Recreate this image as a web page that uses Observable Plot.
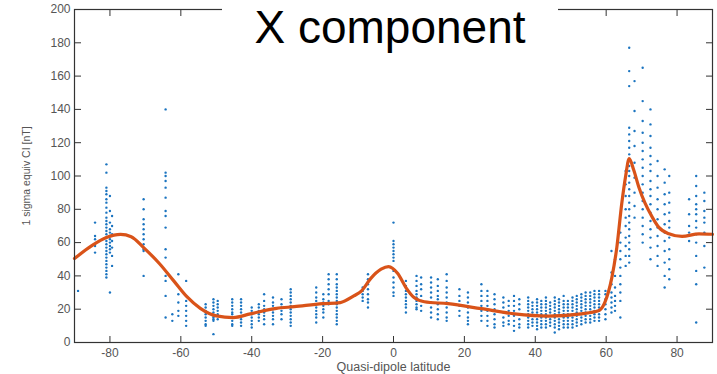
<!DOCTYPE html>
<html><head><meta charset="utf-8">
<script src="https://cdn.jsdelivr.net/npm/d3@7"></script>
<script src="https://cdn.jsdelivr.net/npm/@observablehq/plot@0.6"></script>
<style>
body{margin:0;background:#fff;}
#wrap{position:relative;width:717px;height:374px;overflow:hidden;}
#title{position:absolute;left:222px;top:1px;width:336px;height:52px;background:#fff;font:46px "Liberation Sans",Arial,sans-serif;color:#000;text-align:center;line-height:52px;white-space:nowrap;}
</style></head><body><div id="wrap"><div id="chart"></div><div id="title">X component</div></div>
<script>
const titleText = "X component";
const xLabel = "Quasi-dipole latitude";
const yLabel = "1 sigma equiv CI [nT]";
const xTicks = [-80, -60, -40, -20, 0, 20, 40, 60, 80];
const yTicks = [0, 20, 40, 60, 80, 100, 120, 140, 160, 180, 200];

// scatter: station latitudes and the values observed at each
const stationLat = [-89, -84.2, -81, -80, -79.4, -70.5, -64.3, -62.4, -60.7, -58.5, -53, -50.8, -49.6, -45.5, -43, -40, -38, -36.5, -34, -31.6, -29,
  -21.8, -19.8, -18.3, -16, -8.7, -7.2, 0, 3.5, 6.5, 7.8, 10.6, 12.5, 15, 18.6, 21, 24.8, 26.5, 28.5, 31, 32.5, 34, 35.5,
  38, 39.2, 40.5, 41.7, 43, 44.2, 45.5, 46.7, 48, 49.2, 50.5, 51.7, 53, 54.2, 55.5, 56.7, 58, 59.8, 61.5, 62.5, 64, 65.5, 66.5, 68, 70.3, 72.5, 74.5, 76.5, 77.8, 83.4, 85.4, 87.7];
const stationValues = [
  [31],
  [72, 64, 62, 58, 54],
  [107, 102, 93, 91, 89, 86, 84, 81, 78, 75, 73, 71, 69, 67, 65, 63, 61, 59, 57, 55, 53, 51, 49, 47, 45, 43, 41, 39],
  [88, 79, 72, 68, 66, 64, 62, 60, 58, 56, 54, 30],
  [76, 70, 65, 61, 57, 52, 46],
  [86, 80, 74, 71, 68, 65, 62, 59, 56, 55, 40],
  [140, 102, 100, 97, 93, 87, 79, 76, 69, 56, 51, 40, 37, 28, 15],
  [17, 13],
  [41, 29, 24, 19, 16],
  [37, 28, 25, 22, 19, 16, 13, 10],
  [23, 21, 19, 17, 15, 13, 11, 10],
  [26, 24, 22, 20, 18, 16, 15, 14, 13, 5],
  [25, 23, 21, 19, 17, 16, 14],
  [26, 24, 22, 20, 18, 17, 15, 13, 11, 10],
  [26, 24, 22, 20, 18, 16, 14, 12, 10],
  [21, 19, 17, 15, 13, 11, 9],
  [23, 21, 19, 17, 15, 13],
  [29, 25, 22, 20, 18, 16, 14, 11],
  [27, 24, 22, 20, 18, 16, 14, 11],
  [26, 23, 21, 19, 17, 14],
  [32, 30, 28, 26, 24, 22, 20, 18, 16, 14, 12, 10],
  [33, 30, 27, 25, 23, 21, 19, 17, 15, 12],
  [29, 26, 24, 22, 20, 18, 15],
  [41, 38, 35, 32, 29, 25, 23],
  [41, 38, 35, 33, 31, 29, 27, 25, 23, 21, 19, 17, 15, 13, 11],
  [33, 31, 29, 27, 25],
  [41, 38, 35, 32, 29, 26, 24, 21],
  [72, 61, 59, 57, 55, 53, 51, 49, 43, 39, 36, 33, 30, 28],
  [37, 34, 31, 29, 27, 25, 23, 21, 18],
  [40, 37, 34, 31, 29, 27, 25, 23, 21, 20],
  [39, 35, 32, 28, 25, 22, 19],
  [39, 36, 33, 30, 27, 24, 21, 18, 15],
  [38, 34, 31, 28, 26, 23, 20, 17, 14],
  [41, 37, 33, 30, 27, 24, 21, 18, 15, 13],
  [32, 28, 25, 22, 19, 16],
  [30, 27, 24, 21, 18, 15, 13, 11],
  [35, 31, 28, 25, 22, 19, 16, 13],
  [31, 28, 25, 22, 19, 16, 13, 10],
  [29, 26, 23, 20, 17, 14, 11, 9],
  [27, 24, 21, 18, 15, 12, 10],
  [25, 22, 19, 16, 13, 11],
  [28, 25, 22, 19, 16, 13, 10, 7],
  [26, 23, 20, 17, 14, 11, 9],
  [27, 25, 23, 21, 19, 17, 15, 13, 11, 9],
  [24, 22, 20, 18, 16, 14, 12, 10],
  [26, 24, 22, 20, 18, 16, 14, 12, 10, 8],
  [25, 23, 21, 19, 17, 15, 13, 11, 9],
  [27, 25, 23, 21, 19, 17, 15, 13, 11, 9],
  [24, 22, 20, 18, 16, 14, 12, 10],
  [27, 25, 23, 21, 19, 17, 15, 13, 11, 9, 6],
  [26, 24, 22, 20, 18, 16, 14, 12, 10, 8],
  [28, 25, 23, 21, 19, 17, 15, 13, 11, 9],
  [25, 23, 21, 19, 17, 15, 13, 11, 9],
  [27, 25, 23, 21, 19, 17, 15, 13, 11, 9],
  [28, 26, 24, 22, 20, 18, 16, 14, 12, 10],
  [29, 27, 25, 23, 21, 19, 17, 15, 13, 11],
  [30, 28, 26, 24, 22, 20, 18, 16, 14, 12],
  [30, 28, 26, 24, 22, 20, 18, 16, 14, 12],
  [31, 29, 27, 25, 23, 21, 19, 17, 15, 13],
  [31, 29, 27, 25, 23, 21, 19, 17, 15, 13],
  [31, 29, 26, 23, 20, 17, 14],
  [55, 42, 35, 30, 27, 24, 21, 18],
  [50, 40, 33, 28, 25, 22, 19],
  [77, 66, 60, 55, 50, 45, 40, 35, 30, 25, 15],
  [103, 95, 88, 80, 75, 70, 63, 58, 52, 46],
  [177, 163, 154, 129, 125, 121, 117, 113, 110, 106, 103, 100, 96, 92, 88, 84, 80, 76, 72, 68, 64, 60, 56, 52, 48],
  [157, 139, 127, 118, 108, 99, 90, 82, 75],
  [165, 145, 133, 126, 120, 115, 110, 105, 100, 95, 90, 85, 80, 75, 70, 65, 60],
  [140, 131, 124, 117, 112, 107, 103, 97, 92, 88, 83, 78, 73, 68, 63, 57, 50],
  [109, 100, 93, 86, 80, 74, 69, 64, 58, 52, 46],
  [104, 96, 89, 83, 77, 71, 66, 61, 55, 48, 40, 33],
  [100, 90, 84, 78, 73, 69, 63, 56, 50, 44, 38],
  [86, 77, 70, 66, 61],
  [100, 94, 88, 83, 80, 77, 73, 69, 65, 60, 52, 43, 35, 12],
  [90, 85, 79, 75, 72, 66, 58, 45],
  [82, 55]
];

// fitted curve
const curveLat = [-90, -85, -81, -77, -74, -70.5, -66, -62, -58.3, -54.5, -50, -45.2, -40.4, -33, -28, -20, -15, -11.2, -9, -6.4, -3.5, -1.4, 1.2, 3.5, 5.8, 8.7, 15.4, 24.8, 34.2, 43.7, 53, 57.8, 59.6, 61.6, 63, 64.4, 65.5, 66.5, 67.8, 69.2, 71, 73, 74.8, 77.7, 81.4, 86.2, 90];
const curveVal = [50.4, 58.3, 63, 64.9, 63.5, 57, 47.3, 37, 27.5, 20.5, 16, 15, 17.2, 20.5, 21.5, 23.3, 24, 28, 31, 38.5, 44, 45.6, 41.4, 33, 27, 24.5, 23.3, 20.3, 17.2, 15.9, 17.2, 19, 24, 39, 57, 83.5, 100, 110.5, 103.4, 93.4, 83.5, 75.3, 69.3, 65.3, 63.7, 65.3, 65];

const points = [];
stationLat.forEach((lat, i) => stationValues[i].forEach(v => points.push({lat, val: v})));
const curve = curveLat.map((lat, i) => ({lat, val: curveVal[i]}));

const chart = Plot.plot({
  width: 717,
  height: 374,
  marginLeft: 74,
  marginRight: 5,
  marginTop: 9,
  marginBottom: 32,
  style: {fontFamily: "'Liberation Sans', Arial, sans-serif", fontSize: "12px", color: "#555", background: "#fff"},
  x: {domain: [-90, 90]},
  y: {domain: [0, 200]},
  marks: [
    Plot.dot(points, {x: "lat", y: "val", r: 1.2, fill: "#1b74c0"}),
    Plot.line(curve, {x: "lat", y: "val", stroke: "#D95319", strokeWidth: 3.2, curve: "monotone-x"}),
    Plot.frame({stroke: "#333", strokeWidth: 1.2}),
    Plot.axisX({ticks: xTicks, tickSize: -6, tickPadding: 12, tickFormat: d => String(d), label: xLabel, labelAnchor: "center", labelArrow: "none", labelOffset: 28, stroke: "#333"}),
    Plot.axisX({anchor: "top", ticks: xTicks, tickSize: -6, fill: "none", label: null, stroke: "#333"}),
    Plot.axisY({ticks: yTicks, tickSize: -7, tickPadding: 11, tickFormat: d => String(d), label: yLabel, labelAnchor: "center", labelArrow: "none", labelOffset: 52, stroke: "#333"}),
    Plot.axisY({anchor: "right", ticks: yTicks, tickSize: -7, fill: "none", label: null, stroke: "#333"})
  ]
});
document.getElementById("chart").appendChild(chart);
document.getElementById("title").textContent = titleText;
d3.select(chart).selectAll('g[aria-label="y-axis label"] text').style("font-size", "10.5px");
d3.select(chart).selectAll('g[aria-label="x-axis label"] text').style("font-size", "12.5px");
</script></body></html>
